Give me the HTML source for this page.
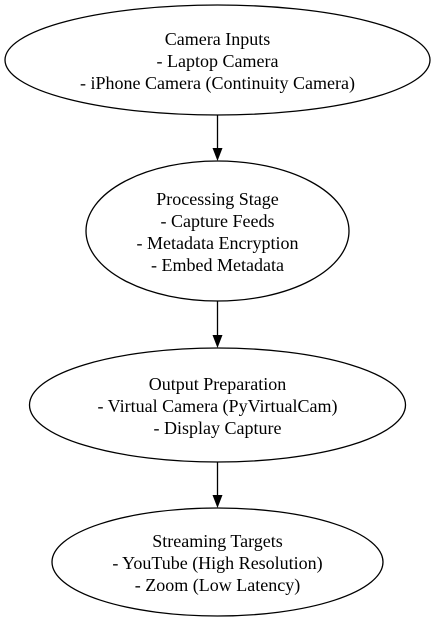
<!DOCTYPE html>
<html><head><style>html,body{margin:0;padding:0;background:#fff}</style></head><body>
<svg width="435" height="619" viewBox="0 0 435 619" xmlns="http://www.w3.org/2000/svg" font-family="'Liberation Serif', serif" font-size="18" text-anchor="middle" fill="#000">
<g fill="none" stroke="#000" stroke-width="1.3">
<ellipse cx="217.5" cy="60" rx="212.5" ry="55"/>
<ellipse cx="217.5" cy="231" rx="131.5" ry="70"/>
<ellipse cx="217.5" cy="405" rx="188" ry="57"/>
<ellipse cx="217.5" cy="562" rx="165.5" ry="54"/>
<line x1="217.5" y1="115" x2="217.5" y2="149"/>
<line x1="217.5" y1="301" x2="217.5" y2="336"/>
<line x1="217.5" y1="462" x2="217.5" y2="496"/>
</g>
<polygon points="212.5,148 222.5,148 217.5,161"/>
<polygon points="212.5,335 222.5,335 217.5,348"/>
<polygon points="212.5,495 222.5,495 217.5,508"/>
<text x="217.5" y="45">Camera Inputs</text>
<text x="217.5" y="67">- Laptop Camera</text>
<text x="217.5" y="89">- iPhone Camera (Continuity Camera)</text>
<text x="217.5" y="205">Processing Stage</text>
<text x="217.5" y="227">- Capture Feeds</text>
<text x="217.5" y="249">- Metadata Encryption</text>
<text x="217.5" y="271">- Embed Metadata</text>
<text x="217.5" y="390">Output Preparation</text>
<text x="217.5" y="412">- Virtual Camera (PyVirtualCam)</text>
<text x="217.5" y="434">- Display Capture</text>
<text x="217.5" y="547">Streaming Targets</text>
<text x="217.5" y="569">- YouTube (High Resolution)</text>
<text x="217.5" y="591">- Zoom (Low Latency)</text>
</svg>
</body></html>
